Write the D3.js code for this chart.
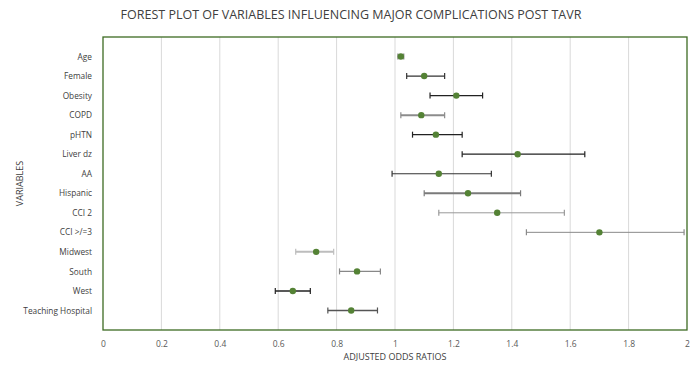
<!DOCTYPE html>
<html>
<head>
<meta charset="utf-8">
<script src="https://cdn.jsdelivr.net/npm/d3@7"></script>
<style>
  body { margin: 0; background: #fff; }
  text { font-family: "Open Sans", sans-serif; }
</style>
</head>
<body>
<svg id="chart" width="693" height="365"></svg>
<script>
// data
var variables = ["Age", "Female", "Obesity", "COPD", "pHTN", "Liver dz", "AA", "Hispanic",
                 "CCI 2", "CCI >/=3", "Midwest", "South", "West", "Teaching Hospital"];
var oddsRatio = [1.02, 1.10, 1.21, 1.09, 1.14, 1.42, 1.15, 1.25, 1.35, 1.70, 0.73, 0.87, 0.65, 0.85];
var ciLow     = [1.01, 1.04, 1.12, 1.02, 1.06, 1.23, 0.99, 1.10, 1.15, 1.45, 0.66, 0.81, 0.59, 0.77];
var ciHigh    = [1.03, 1.17, 1.30, 1.17, 1.23, 1.65, 1.33, 1.43, 1.58, 1.99, 0.79, 0.95, 0.71, 0.94];
var xTicks = [0, 0.2, 0.4, 0.6, 0.8, 1, 1.2, 1.4, 1.6, 1.8, 2];

// error bar colours differ a bit per row in the original
var barColor = ["#7f7f7f", "#333", "#222", "#8c8c8c", "#222", "#222", "#333", "#7a7a7a",
                "#999", "#8a8a8a", "#bdbdbd", "#888", "#222", "#555"];
var barWidth = [1.2, 1.2, 1.2, 2, 1.2, 1.2, 1.2, 2, 1, 1, 2, 1.2, 1.5, 1.5];

var svg = d3.select("#chart");
var m = {l: 103, r: 687, t: 37, b: 330};

var x = d3.scaleLinear().domain([0, 2]).range([m.l, m.r]);
var y = d3.scaleLinear().domain([0, 15]).range([m.b, m.t]);
function yRow(i) { return y(14 - i); }

// gridlines
svg.append("g").selectAll("line")
  .data(xTicks.slice(1, -1))
  .enter().append("line")
  .attr("x1", function(d) { return x(d); })
  .attr("x2", function(d) { return x(d); })
  .attr("y1", m.t).attr("y2", m.b)
  .attr("stroke", "#d9d9d9").attr("stroke-width", 1);

// x axis labels
var xa = svg.append("g")
  .attr("transform", "translate(0," + (m.b + 8) + ")")
  .call(d3.axisBottom(x).tickValues(xTicks).tickSize(0).tickFormat(d3.format("~g")));
xa.select(".domain").remove();
xa.selectAll("text").attr("fill", "#595959").style("font-size", "8.5px")
  .style("font-family", "\"Open Sans\", sans-serif");

// y axis labels
var ya = svg.append("g")
  .attr("transform", "translate(" + (m.l - 8) + ",0)")
  .call(d3.axisLeft(y).tickValues(d3.range(1, 15)).tickSize(0)
    .tickFormat(function(d) { return variables[14 - d]; }));
ya.select(".domain").remove();
ya.selectAll("text").attr("fill", "#404040").style("font-size", "8.3px")
  .style("font-family", "\"Open Sans\", sans-serif");

// error bars
var rows = svg.append("g").selectAll("g")
  .data(variables)
  .enter().append("g");

rows.append("line")
  .attr("x1", function(d, i) { return x(ciLow[i]); })
  .attr("x2", function(d, i) { return x(ciHigh[i]); })
  .attr("y1", function(d, i) { return yRow(i); })
  .attr("y2", function(d, i) { return yRow(i); })
  .attr("stroke", function(d, i) { return barColor[i]; })
  .attr("stroke-width", function(d, i) { return barWidth[i]; });

[ciLow, ciHigh].forEach(function(arr) {
  rows.append("line")
    .attr("x1", function(d, i) { return x(arr[i]); })
    .attr("x2", function(d, i) { return x(arr[i]); })
    .attr("y1", function(d, i) { return yRow(i) - 3; })
    .attr("y2", function(d, i) { return yRow(i) + 3; })
    .attr("stroke", function(d, i) { return barColor[i]; })
    .attr("stroke-width", 1.2);
});

rows.append("circle")
  .attr("cx", function(d, i) { return x(oddsRatio[i]); })
  .attr("cy", function(d, i) { return yRow(i); })
  .attr("r", 3.2)
  .attr("fill", "#548235");

// plot frame
svg.append("rect")
  .attr("x", m.l).attr("y", m.t)
  .attr("width", m.r - m.l).attr("height", m.b - m.t)
  .attr("fill", "none").attr("stroke", "#3d6b22").attr("stroke-width", 1.3);

// titles
svg.append("text")
  .attr("x", 351).attr("y", 19)
  .attr("text-anchor", "middle")
  .attr("fill", "#404040").style("font-size", "12.5px")
  .text("FOREST PLOT OF VARIABLES INFLUENCING MAJOR COMPLICATIONS POST TAVR");

svg.append("text")
  .attr("x", (m.l + m.r) / 2).attr("y", 360)
  .attr("text-anchor", "middle")
  .attr("fill", "#404040").style("font-size", "9px")
  .text("ADJUSTED ODDS RATIOS");

svg.append("text")
  .attr("transform", "translate(23," + ((m.t + m.b) / 2) + ") rotate(-90)")
  .attr("text-anchor", "middle")
  .attr("fill", "#404040").style("font-size", "9px")
  .text("VARIABLES");
</script>
</body>
</html>
